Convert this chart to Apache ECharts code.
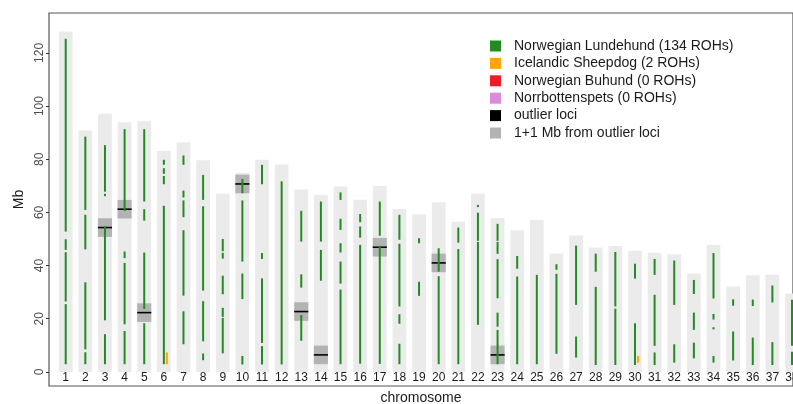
<!DOCTYPE html>
<html>
<head>
<meta charset="utf-8">
<script src="https://cdn.jsdelivr.net/npm/echarts@6/dist/echarts.min.js"></script>
<style>
html,body{margin:0;padding:0;background:#fff;}
#chart{width:793px;height:404px;}
</style>
</head>
<body>
<div id="chart"></div>
<script>
const chromosomes = Array.from({length: 38}, (_, i) => i + 1);
const chrLength = [128.0, 90.8, 97.1, 93.9, 94.4, 83.1, 86.4, 79.6, 67.0, 74.9,
  79.8, 78.0, 68.6, 66.5, 69.7, 64.8, 69.9, 61.3, 59.3, 63.8,
  56.5, 67.0, 57.9, 53.3, 57.1, 44.5, 51.3, 46.8, 47.4, 45.6,
  44.8, 44.3, 37.0, 47.7, 32.1, 36.4, 36.5, 29.5];

// [chromosome, start Mb, end Mb]
const lundehundROH = [
  [1,2.9,25.5],[1,26.5,45.0],[1,45.9,49.9],[1,52.8,125.3],
  [2,2.9,7.4],[2,8.5,33.7],[2,46.1,59.1],[2,60.9,88.5],
  [3,2.9,14.2],[3,19.4,54.8],[3,66.1,67.0],[3,67.8,85.3],
  [4,2.9,15.4],[4,17.9,41.0],[4,42.8,45.3],[4,60.6,91.3],
  [5,2.9,18.3],[5,23.7,44.9],[5,56.9,61.2],[5,64.1,91.3],
  [6,2.9,62.5],[6,70.6,73.7],[6,74.5,76.6],[6,77.9,79.8],
  [7,10.4,22.8],[7,28.7,53.3],[7,58.2,64.5],[7,65.6,68.2],[7,77.9,81.4],
  [8,4.4,6.9],[8,11.5,26.6],[8,30.6,62.3],[8,64.7,74.1],
  [9,7.0,20.3],[9,20.7,24.1],[9,29.2,36.2],[9,42.6,44.8],[9,45.4,50.0],
  [10,2.8,6.0],[10,27.4,37.0],[10,41.5,64.5],[10,67.2,72.6],
  [11,2.8,9.7],[11,10.9,35.2],[11,42.5,44.7],[11,70.6,77.9],
  [12,2.8,71.7],
  [13,11.7,21.4],[13,31.7,36.7],[13,49.0,60.6],
  [14,34.3,45.9],[14,49.0,64.1],
  [15,2.9,31.0],[15,33.2,41.5],[15,44.9,48.4],[15,53.4,57.6],[15,64.7,67.5],
  [16,3.1,47.8],[16,50.5,54.7],[16,56.3,59.4],
  [17,3.0,47.4],[17,51.2,64.1],
  [18,2.9,10.6],[18,18.1,21.7],[18,24.6,48.2],[18,49.7,59.1],
  [19,28.6,33.9],[19,48.4,50.3],
  [20,2.9,36.0],[20,37.7,46.5],
  [21,2.9,46.2],[21,48.6,54.3],
  [22,17.7,48.9],[22,49.3,59.9],[22,62.0,62.8],
  [23,2.9,15.8],[23,17.0,22.3],[23,27.7,42.4],[23,44.4,48.9],[23,49.3,55.7],
  [24,2.9,35.9],[24,38.8,43.6],
  [25,2.9,36.5],
  [26,6.8,36.9],[26,38.4,40.5],
  [27,5.4,13.3],[27,25.2,47.5],
  [28,2.6,32.0],[28,37.7,44.5],
  [29,2.6,23.8],[29,24.6,45.1],
  [30,2.6,18.3],[30,35.1,40.7],
  [31,2.6,7.3],[31,9.8,29.0],[31,36.5,42.5],
  [32,3.5,10.4],[32,25.2,41.9],
  [33,5.1,11.0],[33,15.8,22.3],[33,29.3,34.6],
  [34,3.5,6.0],[34,16.0,16.8],[34,19.7,21.8],[34,27.6,44.7],
  [35,4.3,15.2],[35,24.9,27.3],
  [36,2.6,12.9],[36,24.8,27.2],
  [37,2.6,11.2],[37,26.1,32.5],
  [38,2.6,7.6],[38,9.8,27.1]
];
const icelandicROH = [[6,2.9,7.3],[30,3.5,6.0]];
const buhundROH = [];
const norrbottenROH = [];

const outlierChr = [3, 4, 5, 10, 13, 14, 17, 20, 23];
const outlierPos = [54.3, 61.2, 22.3, 70.7, 22.7, 6.4, 46.9, 41.0, 6.4];
const windowLow  = [50.8, 57.7, 18.8, 67.2, 19.2, 2.9, 43.4, 37.5, 2.9];
const windowHigh = [57.8, 64.7, 25.8, 74.2, 26.2, 9.9, 50.4, 44.5, 9.9];

const yTicks = [0, 20, 40, 60, 80, 100, 120];
const labelY = -2.1;

const names = ['Norwegian Lundehund (134 ROHs)', 'Icelandic Sheepdog (2 ROHs)',
  'Norwegian Buhund (0 ROHs)', 'Norrbottenspets (0 ROHs)', 'outlier loci', '1+1 Mb from outlier loci'];

function rectItem(api, x, y0, y1, wUnits, color, dx) {
  const p0 = api.coord([x, y0]);
  const p1 = api.coord([x, y1]);
  const w = api.size([wUnits, 0])[0];
  return {
    type: 'rect',
    shape: {x: p0[0] - w / 2 + (dx || 0), y: p1[1], width: w, height: p0[1] - p1[1]},
    style: {fill: color}
  };
}
function segItem(api, x, y0, y1, color, dx) {
  const p0 = api.coord([x, y0]);
  const p1 = api.coord([x, y1]);
  return {
    type: 'rect',
    shape: {x: p0[0] - 1 + (dx || 0), y: p1[1], width: 2, height: Math.max(p0[1] - p1[1], 1)},
    style: {fill: color}
  };
}
function rohSeries(name, data, color, dx) {
  return {
    name: name, type: 'custom', z: 5, itemStyle: {color: color},
    data: data,
    encode: {x: 0, y: [1, 2]},
    renderItem: (params, api) => segItem(api, api.value(0), api.value(1), api.value(2), color, dx)
  };
}

const chart = echarts.init(document.getElementById('chart'), null, {renderer: 'canvas'});
chart.setOption({
  animation: false,
  backgroundColor: '#ffffff',
  textStyle: {fontFamily: 'Liberation Sans, Arial, sans-serif'},
  grid: {left: 49, right: 0, top: 13, bottom: 18, show: true, borderColor: '#555', borderWidth: 1.2,
    backgroundColor: 'transparent', containLabel: false, outerBoundsMode: 'none'},
  legend: {
    data: names, orient: 'vertical', left: 485, top: 34,
    icon: 'rect', itemWidth: 11, itemHeight: 11, itemGap: 3.4,
    textStyle: {fontSize: 14, color: '#1a1a1a', lineHeight: 14, padding: [0, 0, 0, 8]},
    selectedMode: false
  },
  xAxis: {
    type: 'value', min: 0.149, max: 38.05,
    name: 'chromosome', nameLocation: 'middle', nameGap: 5,
    nameTextStyle: {fontSize: 14, color: '#1a1a1a'},
    axisLine: {show: false}, axisTick: {show: false}, axisLabel: {show: false}, splitLine: {show: false}
  },
  yAxis: {
    type: 'value', min: -5.3, max: 135,
    name: 'Mb', nameLocation: 'middle', nameGap: 23,
    nameTextStyle: {fontSize: 14, color: '#1a1a1a'},
    axisLine: {show: false},
    axisTick: {show: true, length: 3, customValues: yTicks, lineStyle: {color: '#333'}},
    axisLabel: {show: true, customValues: yTicks, rotate: 90, fontSize: 12, color: '#4d4d4d', margin: 3},
    splitLine: {show: false}
  },
  series: [
    {
      name: 'chrbars', type: 'custom', z: 1, silent: true,
      data: chromosomes.map((c, i) => [c, 0, chrLength[i]]),
      encode: {x: 0, y: [1, 2]},
      renderItem: (params, api) => rectItem(api, api.value(0), api.value(1), api.value(2), 0.7, '#ebebeb')
    },
    {
      name: names[5], type: 'custom', z: 2, itemStyle: {color: '#b3b3b3'},
      data: outlierChr.map((c, i) => [c, windowLow[i], windowHigh[i]]),
      encode: {x: 0, y: [1, 2]},
      renderItem: (params, api) => rectItem(api, api.value(0), api.value(1), api.value(2), 0.72, '#b3b3b3')
    },
    {
      name: names[4], type: 'custom', z: 3, itemStyle: {color: '#000000'},
      data: outlierChr.map((c, i) => [c, outlierPos[i]]),
      encode: {x: 0, y: 1},
      renderItem: (params, api) => {
        const p = api.coord([api.value(0), api.value(1)]);
        const w = api.size([0.72, 0])[0];
        return {type: 'rect', shape: {x: p[0] - w / 2, y: p[1] - 0.8, width: w, height: 1.6}, style: {fill: '#000'}};
      }
    },
    rohSeries(names[0], lundehundROH, '#228b22', 0),
    rohSeries(names[1], icelandicROH, '#ffa500', 3),
    rohSeries(names[2], buhundROH, '#ee1c25', 6),
    rohSeries(names[3], norrbottenROH, '#da8bda', 9),
    {
      name: 'labels', type: 'custom', z: 6, silent: true,
      data: chromosomes.map(c => [c, labelY]),
      encode: {x: 0, y: 1},
      renderItem: (params, api) => {
        const p = api.coord([api.value(0), api.value(1)]);
        return {type: 'text', x: p[0], y: p[1],
          style: {text: String(api.value(0)), fontSize: 12, fill: '#1a1a1a', align: 'center', verticalAlign: 'middle', fontFamily: 'Liberation Sans, Arial, sans-serif'}};
      }
    }
  ]
});
</script>
</body>
</html>
